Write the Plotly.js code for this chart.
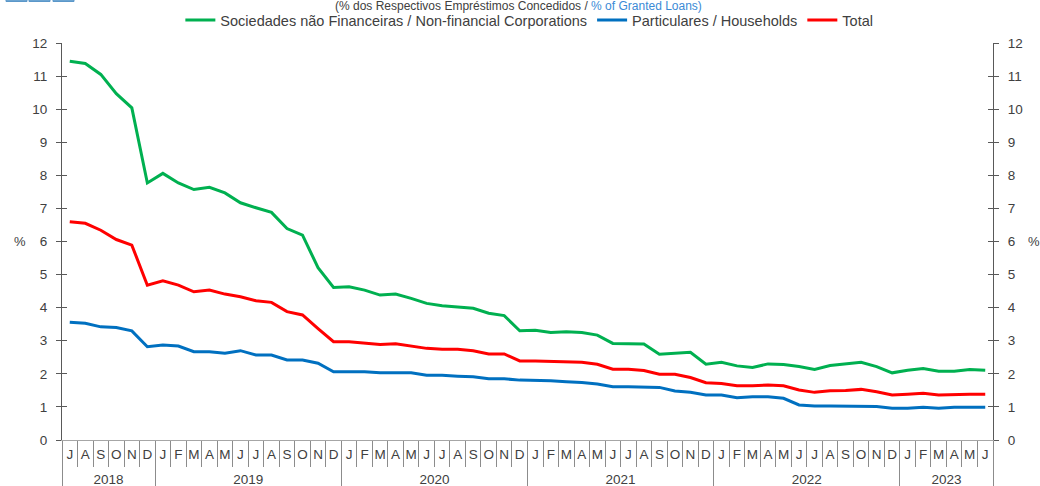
<!DOCTYPE html>
<html><head><meta charset="utf-8">
<script src="https://cdn.plot.ly/plotly-3.0.1.min.js"></script>
<style>html,body{margin:0;padding:0;background:#fff}#chart{width:1040px;height:486px}</style>
</head><body><div id="chart"></div>
<script>
const monthLabels = ['J','A','S','O','N','D',
  'J','F','M','A','M','J','J','A','S','O','N','D',
  'J','F','M','A','M','J','J','A','S','O','N','D',
  'J','F','M','A','M','J','J','A','S','O','N','D',
  'J','F','M','A','M','J','J','A','S','O','N','D',
  'J','F','M','A','M','J'];
const yearLabels = ['2018','2019','2020','2021','2022','2023'];
const monthsPerYear = [6,12,12,12,12,6];
const yTicks = [0,1,2,3,4,5,6,7,8,9,10,11,12];

const nonFinancial = [11.45,11.38,11.05,10.47,10.04,7.77,8.06,7.77,7.57,7.64,7.47,7.17,7.02,6.88,6.39,6.19,5.21,4.61,
  4.63,4.53,4.38,4.41,4.28,4.13,4.06,4.03,3.98,3.83,3.76,3.30,
  3.32,3.25,3.27,3.25,3.17,2.92,2.92,2.90,2.59,2.62,2.65,2.29,
  2.35,2.24,2.19,2.30,2.28,2.22,2.13,2.25,2.30,2.35,2.22,2.03,
  2.11,2.16,2.08,2.08,2.13,2.11];
const households = [3.56,3.53,3.42,3.40,3.30,2.82,2.87,2.84,2.67,2.67,2.62,2.70,2.57,2.57,2.42,2.42,2.32,2.06,
  2.06,2.06,2.03,2.03,2.03,1.96,1.96,1.93,1.91,1.85,1.85,1.81,
  1.81,1.79,1.76,1.74,1.69,1.61,1.61,1.61,1.59,1.48,1.44,1.36,
  1.36,1.28,1.31,1.31,1.26,1.06,1.03,1.03,1.03,1.03,1.01,0.96,
  0.96,0.99,0.96,0.99,0.99,0.99];
const total = [6.60,6.55,6.34,6.06,5.89,4.68,4.81,4.68,4.48,4.53,4.41,4.33,4.21,4.16,3.88,3.78,3.37,2.97,
  2.97,2.92,2.89,2.91,2.85,2.77,2.74,2.74,2.70,2.60,2.60,2.39,
  2.39,2.37,2.37,2.35,2.29,2.14,2.14,2.10,1.99,1.99,1.89,1.73,
  1.71,1.64,1.64,1.66,1.64,1.51,1.44,1.49,1.50,1.53,1.46,1.36,
  1.38,1.41,1.36,1.38,1.38,1.38];

const idx = monthLabels.map((_, i) => i);
const monthBounds = monthLabels.map((_, i) => i - 0.5).concat([monthLabels.length - 0.5]);
const yearBounds = [-0.5]; const yearCenters = [];
{ let acc = 0; monthsPerYear.forEach(n => { yearCenters.push(acc + n / 2 - 0.5); acc += n; yearBounds.push(acc - 0.5); }); }
const xr = [-0.5, monthLabels.length - 0.5];

const FONT = 'Liberation Sans, Arial, sans-serif';
const TXT = '#404040';
const AX = '#595959';
const SEP = '#8c8c8c';

const traces = [
  {x: idx, y: nonFinancial, name: 'Sociedades não Financeiras / Non-financial Corporations', type: 'scatter', mode: 'lines', line: {color: '#00b050', width: 3}},
  {x: idx, y: households, name: 'Particulares / Households', type: 'scatter', mode: 'lines', line: {color: '#0070c0', width: 3}},
  {x: idx, y: total, name: 'Total', type: 'scatter', mode: 'lines', line: {color: '#ff0000', width: 3}}
];
// invisible carriers so the overlay axes get drawn
[['x2','y'],['x3','y'],['x4','y'],['x','y2'],['x','y3'],['x','y4']].forEach(([xa, ya]) => {
  traces.push({x: idx, y: total, xaxis: xa, yaxis: ya, type: 'scatter', mode: 'lines', opacity: 0,
    line: {width: 0}, showlegend: false, hoverinfo: 'skip'});
});

const layout = {
  width: 1040, height: 486,
  margin: {l: 62, r: 47, t: 43, b: 46, autoexpand: false},
  paper_bgcolor: '#fff', plot_bgcolor: '#fff',
  font: {family: FONT, size: 13, color: TXT},
  showlegend: true,
  legend: {orientation: 'h', x: 0.502, xanchor: 'center', y: 1.058, yanchor: 'middle',
    font: {family: FONT, size: 14.5, color: TXT}, bgcolor: 'rgba(0,0,0,0)', traceorder: 'normal'},
  xaxis: {range: xr, tickmode: 'array', tickvals: idx, ticktext: monthLabels, ticks: '',
    showline: true, linecolor: '#a6a6a6', linewidth: 1, showgrid: false, zeroline: false,
    tickfont: {family: FONT, size: 13.5, color: TXT}, ticklabelstandoff: 2, fixedrange: true},
  xaxis2: {overlaying: 'x', anchor: 'y', side: 'bottom', range: xr, tickmode: 'array', tickvals: monthBounds,
    ticks: 'outside', ticklen: 26, tickcolor: SEP, tickwidth: 1, showticklabels: false, showgrid: false, zeroline: false, showline: false},
  xaxis3: {overlaying: 'x', anchor: 'y', side: 'bottom', range: xr, tickmode: 'array', tickvals: yearBounds,
    ticks: 'outside', ticklen: 50, tickcolor: SEP, tickwidth: 1, showticklabels: false, showgrid: false, zeroline: false, showline: false},
  xaxis4: {overlaying: 'x', anchor: 'y', side: 'bottom', range: xr, tickmode: 'array', tickvals: yearCenters, ticktext: yearLabels,
    ticks: '', showticklabels: true, ticklabelstandoff: 29, tickfont: {family: FONT, size: 13.5, color: TXT}, showgrid: false, zeroline: false, showline: false},
  yaxis: {range: [0, 12], tickmode: 'array', tickvals: yTicks, ticks: 'outside', ticklen: 5, tickcolor: AX,
    showline: true, linecolor: AX, linewidth: 1, showgrid: false, zeroline: false,
    tickfont: {family: FONT, size: 13.5, color: TXT}, ticklabelstandoff: 6, fixedrange: true},
  yaxis2: {overlaying: 'y', anchor: 'x', side: 'right', range: [0, 12], tickmode: 'array', tickvals: yTicks, ticks: 'outside', ticklen: 5, tickcolor: AX,
    showline: true, linecolor: AX, linewidth: 1, showgrid: false, zeroline: false,
    tickfont: {family: FONT, size: 13.5, color: TXT}, ticklabelstandoff: 6},
  yaxis3: {overlaying: 'y', anchor: 'x', side: 'left', range: [0, 12], tickmode: 'array', tickvals: yTicks, ticks: 'inside', ticklen: 5, tickcolor: AX,
    showticklabels: false, showline: false, showgrid: false, zeroline: false},
  yaxis4: {overlaying: 'y', anchor: 'x', side: 'right', range: [0, 12], tickmode: 'array', tickvals: yTicks, ticks: 'inside', ticklen: 5, tickcolor: AX,
    showticklabels: false, showline: false, showgrid: false, zeroline: false},
  annotations: [
    {xref: 'paper', yref: 'paper', x: -0.045, y: 0.5, xanchor: 'center', yanchor: 'middle', text: '%', showarrow: false, font: {family: FONT, size: 13, color: TXT}},
    {xref: 'paper', yref: 'paper', x: 1.0445, y: 0.5, xanchor: 'center', yanchor: 'middle', text: '%', showarrow: false, font: {family: FONT, size: 13, color: TXT}},
    {xref: 'paper', yref: 'paper', x: 0.49, y: 1 + 36.5 / 397, xanchor: 'center', yanchor: 'middle', showarrow: false,
      text: '(% dos Respectivos Empréstimos Concedidos / <span style="color:#3a8ad6">% of Granted Loans)</span>', font: {family: FONT, size: 12, color: TXT}}
  ],
  shapes: [
    {type: 'rect', xref: 'paper', yref: 'paper', x0: (6 - 62) / 931, x1: (27 - 62) / 931, y0: 1 + 41.5 / 397, y1: 1 + 43 / 397, fillcolor: '#7fb0d8', line: {color: '#5b97c9', width: 1}},
    {type: 'rect', xref: 'paper', yref: 'paper', x0: (29 - 62) / 931, x1: (50 - 62) / 931, y0: 1 + 41.5 / 397, y1: 1 + 43 / 397, fillcolor: '#7fb0d8', line: {color: '#5b97c9', width: 1}},
    {type: 'rect', xref: 'paper', yref: 'paper', x0: (53 - 62) / 931, x1: (74 - 62) / 931, y0: 1 + 41.5 / 397, y1: 1 + 43 / 397, fillcolor: '#7fb0d8', line: {color: '#5b97c9', width: 1}}
  ]
};

Plotly.newPlot('chart', traces, layout, {displayModeBar: false, staticPlot: true});
</script></body></html>
